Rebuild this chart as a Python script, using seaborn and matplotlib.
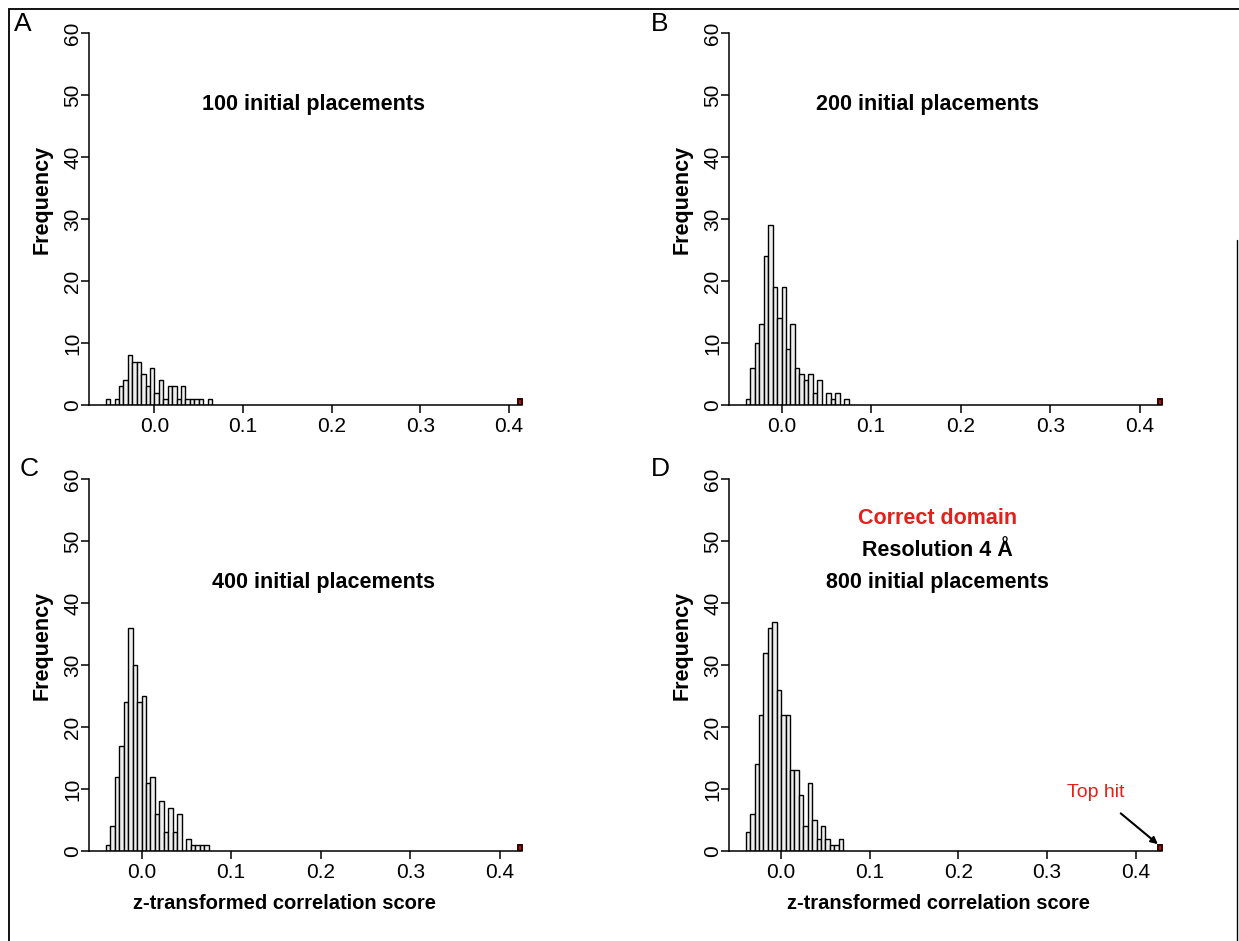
import numpy as np
import pandas as pd
import matplotlib.pyplot as plt
import seaborn as sns
from matplotlib.lines import Line2D

plt.switch_backend("Agg")

BIN_W = 0.005

# counts per 0.005-wide bin (left edge of first bin given)
a_start = -0.055
a_counts = [1, 0, 1, 3, 4, 8, 7, 7, 5, 3, 6, 2, 4, 1, 3, 3, 1, 3, 1, 1, 1, 1, 0, 1]
b_start = -0.04
b_counts = [1, 6, 10, 13, 24, 29, 19, 14, 19, 9, 13, 6, 5, 4, 5, 2, 4, 0, 2, 1, 2, 0, 1]
c_start = -0.04
c_counts = [1, 4, 12, 17, 24, 36, 30, 24, 25, 11, 12, 6, 8, 3, 7, 3, 6, 0, 2, 1, 1, 1, 1]
d_start = -0.04
d_counts = [3, 6, 14, 22, 32, 36, 37, 26, 22, 22, 13, 13, 9, 4, 11, 5, 2, 4, 2, 1, 1, 2]

# left edge of the bin with the top hit (red bar)
top_hits = [0.41, 0.42, 0.42, 0.425]

titles = ["100 initial placements", "200 initial placements",
          "400 initial placements", "800 initial placements"]
letters = ["A", "B", "C", "D"]
x_ticks = [0.0, 0.1, 0.2, 0.3, 0.4]
x_tick_labels = ["0.0", "0.1", "0.2", "0.3", "0.4"]
y_ticks = [0, 10, 20, 30, 40, 50, 60]

W, H = 1239, 941
sns.set_style("ticks")
plt.rcParams["font.family"] = ["Liberation Sans", "DejaVu Sans"]
plt.rcParams.update({"text.color": "black", "axes.labelcolor": "black",
                     "xtick.color": "black", "ytick.color": "black",
                     "axes.edgecolor": "black"})
fig = plt.figure(figsize=(W / 100, H / 100), dpi=100)


def px_rect(left, baseline, width=450, height=387):
    return [left / W, 1 - baseline / H, width / W, height / H]


def draw_panel(ax, start, counts, top_hit, title, title_pos, xlabel_x):
    n = len(counts)
    centers = start + BIN_W * (np.arange(n) + 0.5)
    scores = pd.DataFrame({"score": np.repeat(centers, counts)})
    sns.histplot(data=scores, x="score", binwidth=BIN_W,
                 binrange=(start, start + n * BIN_W - 1e-9), ax=ax,
                 color="#eeeeee", edgecolor="black", linewidth=1.0, alpha=1)
    hit = pd.DataFrame({"score": [top_hit + BIN_W / 2]})
    sns.histplot(data=hit, x="score", binwidth=BIN_W,
                 binrange=(top_hit, top_hit + BIN_W - 1e-9), ax=ax,
                 color="#a01818", edgecolor="#300000", linewidth=1.4, alpha=1)

    lo, hi = start, top_hit + BIN_W
    pad = 0.04 * (hi - lo)
    ax.set_xlim(lo - pad, hi + pad)
    ax.set_ylim(0, 62.4)
    sns.despine(ax=ax)
    ax.spines["left"].set_bounds(0, 60)
    ax.spines["bottom"].set_bounds(lo - pad, hi)
    for s in ("left", "bottom"):
        ax.spines[s].set_linewidth(1.1)

    ax.set_xticks(x_ticks)
    ax.set_xticklabels(x_tick_labels)
    ax.set_yticks(y_ticks)
    ax.tick_params(axis="both", direction="out", length=6, width=1.1,
                   labelsize=15)
    ax.tick_params(axis="x", pad=3)
    ax.tick_params(axis="y", pad=-1)
    for lbl in ax.get_yticklabels():
        lbl.set_rotation(90)
        lbl.set_va("center")

    ax.set_ylabel("Frequency", fontsize=15.5, fontweight="bold")
    ax.yaxis.set_label_coords(-0.08, 0.532)
    if xlabel_x is not None:
        ax.set_xlabel("z-transformed correlation score", fontsize=14.5,
                      fontweight="bold")
        ax.xaxis.set_label_coords(xlabel_x, -0.112)
    else:
        ax.set_xlabel("")
    ax.text(title_pos[0], title_pos[1], title, ha="center", va="center",
            fontsize=15.5, fontweight="bold")


axes = [
    fig.add_axes(px_rect(89, 405)),
    fig.add_axes(px_rect(729, 405)),
    fig.add_axes(px_rect(89, 851)),
    fig.add_axes(px_rect(729, 851)),
]
starts = [a_start, b_start, c_start, d_start]
all_counts = [a_counts, b_counts, c_counts, d_counts]
title_pos = [(0.179, 48.5), (0.163, 48.5), (0.203, 43.3), (0.176, 43.3)]
xlabel_pos = [None, None, 0.435, 0.465]

for i, ax in enumerate(axes):
    draw_panel(ax, starts[i], all_counts[i], top_hits[i], titles[i],
               title_pos[i], xlabel_pos[i])

# extra annotations on panel D
axd = axes[3]
axd.text(0.176, 53.6, "Correct domain", ha="center", va="center",
         fontsize=15.5, fontweight="bold", color="#e3201b")
axd.text(0.176, 48.5, "Resolution 4 Å", ha="center", va="center",
         fontsize=15.5, fontweight="bold", color="black")
axd.annotate("Top hit", xy=(top_hits[3], 1.1), xytext=(0.355, 9.4),
             ha="center", va="center", fontsize=14, color="#e3201b",
             arrowprops=dict(arrowstyle="-|>", color="black", lw=1.5,
                             shrinkA=10, shrinkB=0, mutation_scale=10))

# panel letters
for (lx, ly), letter in zip([(23, 24), (660, 24), (29, 469), (660, 469)], letters):
    fig.text(lx / W, 1 - ly / H, letter, fontsize=19, ha="center", va="center")

# frame around the figure
fig.add_artist(Line2D([9 / W, 9 / W], [0, 1 - 9 / H], color="black", lw=1.3))
fig.add_artist(Line2D([9 / W, 1], [1 - 9 / H, 1 - 9 / H], color="black", lw=1.3))
fig.add_artist(Line2D([1237 / W, 1237 / W], [0, 1 - 240 / H], color="black", lw=1.0))

fig.savefig("out.png", dpi=100)
plt.close(fig)
